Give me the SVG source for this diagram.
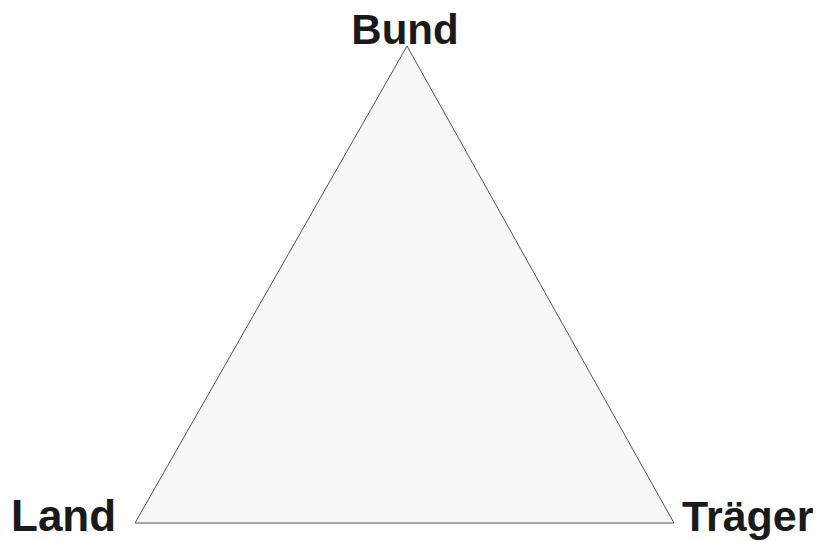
<svg xmlns="http://www.w3.org/2000/svg" width="819" height="541" viewBox="0 0 819 541">
<style>
.lbl{font-family:"Liberation Sans",Arial,sans-serif;font-weight:bold;font-size:42px;fill:#1a1a1a}
</style>
<rect width="819" height="541" fill="#ffffff"/>
<g id="triangle">
<polygon points="407,46 135,523 674,523" fill="#f8f8f8" stroke="#555" stroke-width="1"/>
</g>
<g id="bund"><text class="lbl" x="405" y="44" text-anchor="middle">Bund</text></g>
<g id="land"><text class="lbl" x="11" y="531" style="font-size:44px">Land</text></g>
<g id="traeger"><text class="lbl" x="682" y="531" style="font-size:43px">Träger</text></g>
</svg>
